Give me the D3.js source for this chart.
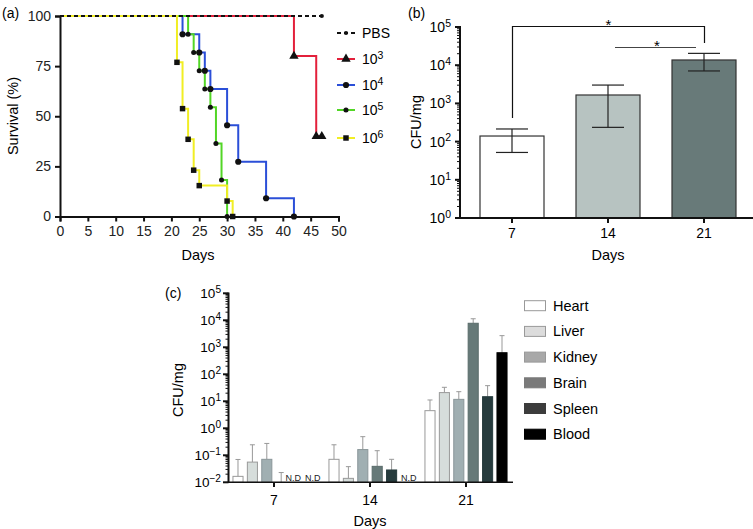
<!DOCTYPE html>
<html><head><meta charset="utf-8">
<script src="https://cdn.jsdelivr.net/npm/d3@7"></script>
<style>body{margin:0;background:#fff} svg{font-family:"Liberation Sans",Arial,Helvetica,sans-serif}</style>
</head><body><svg id="c" width="753" height="529"></svg>
<script>
// ---------- Panel (a) data ----------
const survivalTicks = [0, 25, 50, 75, 100];
const dayTicksA = [0, 5, 10, 15, 20, 25, 30, 35, 40, 45, 50];
const groupNames = ["PBS", "3", "4", "5", "6"]; // PBS, 10^3 ... 10^6
const pbsDays = [0, 47], pbsSurv = [100, 100];
const g3Days = [0, 42, 46, 47], g3Surv = [100, 80, 40, 40];
const g4Days = [0, 22, 25, 26, 27, 30, 32, 37, 42], g4Surv = [100, 90.9, 81.8, 72.7, 63.6, 45.5, 27.3, 9.1, 0];
const g5Days = [0, 23, 24, 25, 26, 27, 28, 29, 30], g5Surv = [100, 90.9, 81.8, 72.7, 63.6, 54.5, 36.4, 18.2, 0];
const g6Days = [0, 21, 22, 23, 24, 25, 30, 31], g6Surv = [100, 76.9, 53.8, 38.5, 23.1, 15.4, 7.7, 0];

// ---------- Panel (b) data ----------
const bDays = ["7", "14", "21"];
const bMean = [140, 1660, 13700];
const bLow = [52, 236, 7070];
const bHigh = [214, 3020, 20400];
const bExp = [0, 1, 2, 3, 4, 5];

// ---------- Panel (c) data ----------
const organs = ["Heart", "Liver", "Kidney", "Brain", "Spleen", "Blood"];
const cDays = ["7", "14", "21"];
const heartVals = [0.0166, 0.071, 4.5],   heartErr = [0.07, 0.245, 11.2];
const liverVals = [0.056, 0.014, 21],     liverErr = [0.245, 0.038, 33];
const kidneyVals = [0.071, 0.163, 11.8],  kidneyErr = [0.275, 0.49, 22.7];
const brainVals = [0.01, 0.039, 7760],    brainErr = [0.023, 0.148, 11400];
const spleenVals = [null, 0.0286, 14.8],  spleenErr = [null, 0.071, 38];
const bloodVals = [null, null, 630],      bloodErr = [null, null, 2700];
const cExp = [-2, -1, 0, 1, 2, 3, 4, 5];

const svg = d3.select("#c");

function pow10Label(sel, exp, size) {
  sel.text("10");
  sel.append("tspan").attr("dy", "-0.5em").attr("font-size", size * 0.75)
     .text(exp < 0 ? "\u2212" + (-exp) : String(exp));
}

// ================= Panel (a) =================
{
  const x = d3.scaleLinear().domain([0, 50]).range([60, 338.5]);
  const y = d3.scaleLinear().domain([0, 100]).range([216.5, 16]);
  const g = svg.append("g");
  const xa = g.append("g").attr("transform", "translate(0,216.5)")
    .call(d3.axisBottom(x).tickValues(dayTicksA).tickSize(5).tickPadding(5));
  const ya = g.append("g").attr("transform", "translate(60,0)")
    .call(d3.axisLeft(y).tickValues(survivalTicks).tickSize(5).tickPadding(4));
  [xa, ya].forEach(a => {
    a.select(".domain").attr("stroke-width", 2).attr("stroke", "#111");
    a.selectAll(".tick line").attr("stroke-width", 2).attr("stroke", "#111");
    a.selectAll("text").attr("font-size", 14).attr("fill", "#222").attr("font-family", null);
  });
  g.append("text").attr("x", 198).attr("y", 260).attr("text-anchor", "middle").attr("font-size", 14.5).text("Days");
  g.append("text").attr("transform", "translate(18,116) rotate(-90)").attr("text-anchor", "middle").attr("font-size", 14.5).text("Survival (%)");
  g.append("text").attr("x", 2).attr("y", 18).attr("font-size", 14).text("(a)");

  const line = d3.line().x(d => x(d[0])).y(d => y(d[1])).curve(d3.curveStepAfter);
  const series = [
    {days: g3Days, surv: g3Surv, color: "#e3203b", sym: d3.symbolTriangle, size: 38, dash: null},
    {days: g4Days, surv: g4Surv, color: "#2b4fd8", sym: d3.symbolCircle, size: 30, dash: null},
    {days: g5Days, surv: g5Surv, color: "#52d626", sym: d3.symbolCircle, size: 20, dash: null},
    {days: g6Days, surv: g6Surv, color: "#f1ee24", sym: d3.symbolSquare, size: 30, dash: null},
    {days: pbsDays, surv: pbsSurv, color: "#111", sym: d3.symbolCircle, size: 14, dash: "4,3"}
  ];
  series.forEach(s => {
    const pts = s.days.map((d, i) => [d, s.surv[i]]);
    g.append("path").attr("d", line(pts)).attr("fill", "none").attr("stroke", s.color)
      .attr("stroke-width", 2).attr("stroke-dasharray", s.dash);
  });
  series.forEach(s => {
    const pts = s.days.map((d, i) => [d, s.surv[i]]).slice(1);
    g.selectAll(null).data(pts).enter().append("path")
      .attr("d", d3.symbol().type(s.sym).size(s.size))
      .attr("transform", d => `translate(${x(d[0])},${y(d[1])})`).attr("fill", "#111");
  });
  const legOrder = [series[4], series[0], series[1], series[2], series[3]];
  const legY = [33, 59, 85, 110, 138];
  legOrder.forEach((s, i) => {
    g.append("line").attr("x1", 337).attr("x2", 355).attr("y1", legY[i]).attr("y2", legY[i])
      .attr("stroke", s.color).attr("stroke-width", 2).attr("stroke-dasharray", s.dash);
    g.append("path").attr("d", d3.symbol().type(s.sym).size(s.size)).attr("transform", `translate(346,${legY[i]})`).attr("fill", "#111");
    const t = g.append("text").attr("x", 362).attr("y", legY[i] + 5).attr("font-size", 14);
    if (i === 0) t.text(groupNames[0]); else pow10Label(t, +groupNames[i], 14);
  });
}

// ================= Panel (b) =================
{
  const x = d3.scaleBand().domain(bDays).range([464, 752]).paddingInner(1/3).paddingOuter(1/6);
  const y = d3.scaleLog().domain([1, 1e5]).range([218, 27]);
  const g = svg.append("g");
  const barFill = ["#ffffff", "#b7c3c1", "#687a79"];
  g.selectAll(null).data(bDays).enter().append("rect")
    .attr("x", d => x(d)).attr("width", x.bandwidth())
    .attr("y", (d, i) => y(bMean[i])).attr("height", (d, i) => 218 - y(bMean[i]))
    .attr("fill", (d, i) => barFill[i]).attr("stroke", "#333").attr("stroke-width", 1.2);
  bDays.forEach((d, i) => {
    const cx = x(d) + x.bandwidth() / 2;
    g.append("line").attr("x1", cx).attr("x2", cx).attr("y1", y(bHigh[i])).attr("y2", y(bLow[i])).attr("stroke", "#222").attr("stroke-width", 1.2);
    [bHigh[i], bLow[i]].forEach(v => g.append("line").attr("x1", cx - 16).attr("x2", cx + 16).attr("y1", y(v)).attr("y2", y(v)).attr("stroke", "#222").attr("stroke-width", 1.2));
  });
  const minor = [];
  for (let e = 0; e < 5; e++) for (let k = 2; k < 10; k++) minor.push(k * Math.pow(10, e));
  g.selectAll(null).data(minor).enter().append("line").attr("x1", 457).attr("x2", 460)
    .attr("y1", d => y(d)).attr("y2", d => y(d)).attr("stroke", "#111");
  g.append("line").attr("x1", 460).attr("x2", 460).attr("y1", 26).attr("y2", 219).attr("stroke", "#111").attr("stroke-width", 2);
  bExp.forEach(e => {
    g.append("line").attr("x1", 455).attr("x2", 460).attr("y1", y(Math.pow(10, e))).attr("y2", y(Math.pow(10, e))).attr("stroke", "#111").attr("stroke-width", 2);
    const t = g.append("text").attr("x", 451).attr("y", y(Math.pow(10, e)) + 5).attr("text-anchor", "end").attr("font-size", 14);
    pow10Label(t, e, 14);
  });
  g.append("line").attr("x1", 459).attr("x2", 753).attr("y1", 218).attr("y2", 218).attr("stroke", "#111").attr("stroke-width", 2);
  bDays.forEach(d => {
    const cx = x(d) + x.bandwidth() / 2;
    g.append("line").attr("x1", cx).attr("x2", cx).attr("y1", 218).attr("y2", 223).attr("stroke", "#111").attr("stroke-width", 2);
    g.append("text").attr("x", cx).attr("y", 238).attr("text-anchor", "middle").attr("font-size", 14).text(d);
  });
  g.append("text").attr("x", 608).attr("y", 260).attr("text-anchor", "middle").attr("font-size", 14.5).text("Days");
  g.append("text").attr("transform", "translate(421,122) rotate(-90)").attr("text-anchor", "middle").attr("font-size", 14.5).text("CFU/mg");
  g.append("text").attr("x", 408).attr("y", 18).attr("font-size", 14).text("(b)");
  const c0 = Math.round(x("7") + x.bandwidth() / 2) + 0.5, c2 = Math.round(x("21") + x.bandwidth() / 2) + 0.5;
  g.append("path").attr("d", `M${c0},118V26.5H${c2}V43`).attr("fill", "none").attr("stroke", "#111").attr("stroke-width", 1.2);
  g.append("text").attr("x", (c0 + c2) / 2).attr("y", 30).attr("text-anchor", "middle").attr("font-size", 15).text("*");
  g.append("line").attr("x1", 615).attr("x2", 696).attr("y1", 47.5).attr("y2", 47.5).attr("stroke", "#444").attr("stroke-width", 1);
  g.append("text").attr("x", 657).attr("y", 51).attr("text-anchor", "middle").attr("font-size", 15).text("*");
}

// ================= Panel (c) =================
{
  const x0 = d3.scaleBand().domain(cDays).range([226, 514]);
  const x1 = d3.scaleBand().domain(organs).range([0, x0.bandwidth()]).paddingInner(0.3).paddingOuter(0.483);
  const y = d3.scaleLog().domain([1e-2, 1e5]).range([482.3, 293.3]);
  const vals = [heartVals, liverVals, kidneyVals, brainVals, spleenVals, bloodVals];
  const errs = [heartErr, liverErr, kidneyErr, brainErr, spleenErr, bloodErr];
  const barFill = ["#ffffff", "#d6dddb", "#a0afb2", "#667978", "#263b3d", "#000000"];
  const barStroke = ["#999", "#999", "#8a9699", "#5a6b6a", "#263b3d", "#000"];
  const legFill = ["#ffffff", "#dcdcdc", "#a8a8a8", "#7a7a7a", "#3c3c3c", "#000000"];
  const g = svg.append("g");
  cDays.forEach((day, di) => {
    organs.forEach((o, oi) => {
      const bx = x0(day) + x1(o), bw = x1.bandwidth(), cx = bx + bw / 2;
      const v = vals[oi][di];
      if (v === null) {
        g.append("text").attr("x", bx + (oi === 4 ? -5 : 0)).attr("y", 480.5).attr("font-size", 9).attr("fill", "#222").text("N.D");
        return;
      }
      const e = errs[oi][di];
      g.append("line").attr("x1", cx).attr("x2", cx).attr("y1", y(e)).attr("y2", y(v)).attr("stroke", "#999").attr("stroke-width", 1);
      g.append("line").attr("x1", cx - 2.5).attr("x2", cx + 2.5).attr("y1", y(e)).attr("y2", y(e)).attr("stroke", "#999").attr("stroke-width", 1);
      g.append("rect").attr("x", bx).attr("width", bw).attr("y", y(v)).attr("height", 482.3 - y(v))
        .attr("fill", barFill[oi]).attr("stroke", barStroke[oi]).attr("stroke-width", 1);
    });
  });
  const minor = [];
  for (let e = -2; e < 5; e++) for (let k = 2; k < 10; k++) minor.push(k * Math.pow(10, e));
  g.selectAll(null).data(minor).enter().append("line").attr("x1", 225.5).attr("x2", 228.5)
    .attr("y1", d => y(d)).attr("y2", d => y(d)).attr("stroke", "#111");
  g.append("line").attr("x1", 228.5).attr("x2", 228.5).attr("y1", 292.5).attr("y2", 483).attr("stroke", "#111").attr("stroke-width", 2);
  cExp.forEach(e => {
    g.append("line").attr("x1", 223).attr("x2", 228.5).attr("y1", y(Math.pow(10, e))).attr("y2", y(Math.pow(10, e))).attr("stroke", "#111").attr("stroke-width", 2);
    const t = g.append("text").attr("x", 221).attr("y", y(Math.pow(10, e)) + 5).attr("text-anchor", "end").attr("font-size", 13.5);
    pow10Label(t, e, 13.5);
  });
  g.append("line").attr("x1", 228).attr("x2", 513).attr("y1", 482.3).attr("y2", 482.3).attr("stroke", "#111").attr("stroke-width", 1.5);
  cDays.forEach(d => {
    const cx = x0(d) + x0.bandwidth() / 2;
    g.append("line").attr("x1", cx).attr("x2", cx).attr("y1", 482).attr("y2", 487).attr("stroke", "#111").attr("stroke-width", 2);
    g.append("text").attr("x", cx).attr("y", 505).attr("text-anchor", "middle").attr("font-size", 14).text(d);
  });
  g.append("text").attr("x", 370).attr("y", 526).attr("text-anchor", "middle").attr("font-size", 14.5).text("Days");
  g.append("text").attr("transform", "translate(183,390) rotate(-90)").attr("text-anchor", "middle").attr("font-size", 14.5).text("CFU/mg");
  g.append("text").attr("x", 165).attr("y", 298).attr("font-size", 14).text("(c)");
  organs.forEach((o, i) => {
    const ly = 300.7 + i * 25.7;
    g.append("rect").attr("x", 524.5).attr("y", ly).attr("width", 21).attr("height", 10)
      .attr("fill", legFill[i]).attr("stroke", i < 3 ? "#999" : legFill[i]).attr("stroke-width", 1);
    g.append("text").attr("x", 553).attr("y", ly + 10).attr("font-size", 14.5).text(o);
  });
}
</script></body></html>
